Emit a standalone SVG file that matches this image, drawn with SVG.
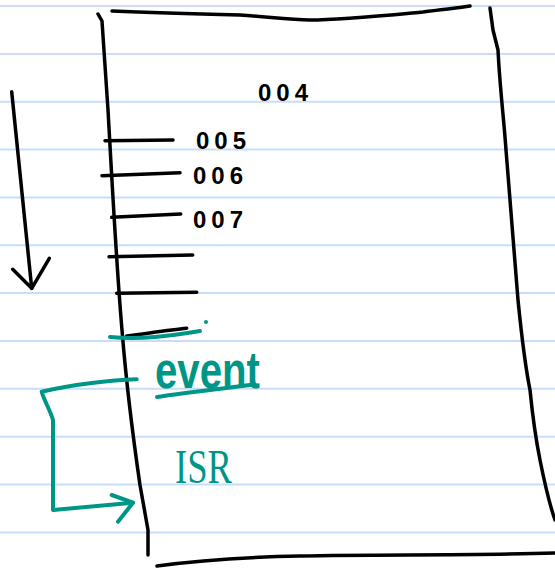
<svg xmlns="http://www.w3.org/2000/svg" width="555" height="570" viewBox="0 0 555 570">
<style>
.rule{stroke:#c7ddf9;stroke-width:2;fill:none}
.ink{stroke:#000;stroke-width:3.5;fill:none;stroke-linecap:round;stroke-linejoin:round}
.teal{stroke:#009687;stroke-width:4;fill:none;stroke-linecap:round;stroke-linejoin:round}
.num{font-family:"Liberation Sans",Arial,sans-serif;font-weight:bold;font-size:24px;fill:#000;letter-spacing:5px}
.tt{font-family:"Liberation Sans",Arial,sans-serif;fill:#009687}
</style>
<rect width="555" height="570" fill="#fff"/>
<g id="ruled-paper">
<path class="rule" d="M0 6H555M0 54H555M0 101.7H555M0 149.5H555M0 197.4H555M0 245.3H555M0 293.1H555M0 341H555M0 388.8H555M0 436.7H555M0 484.5H555M0 532.4H555"/>
</g>
<g id="stack-box">
<path class="ink" d="M112 11 C160 13 200 14 240 15 C270 17 290 20 310 20 C340 20 380 16 423 12 C445 9 460 8 470 6"/>
<path class="ink" d="M98 14 L102 21 C104 50 106 80 108 110 C112 180 116 260 122 330 C126 380 132 430 140 485 L148 530 L148 555"/>
<path class="ink" d="M490 8 L493 30 L498 50 C500 90 504 120 506 150 C510 200 514 250 518 300 C522 340 526 370 530 390 C533 420 536 440 540 460 C544 480 548 500 555 520"/>
<path class="ink" d="M157 566 C200 560 250 557 300 556 C380 554 460 556 555 553"/>
</g>
<g id="ticks">
<path class="ink" d="M105 140.7 L173 140"/>
<path class="ink" d="M102 175.7 L180 172.7"/>
<path class="ink" d="M111.7 217.3 L180.7 214"/>
<path class="ink" d="M109 256.7 L192.7 255"/>
<path class="ink" d="M116.7 293.3 L196.7 292.3"/>
<path class="ink" d="M126.7 336 C150 333 170 330 186.7 328.3"/>
<path class="teal" d="M110 337 C140 340 170 336 200 331"/>
<circle cx="206" cy="322" r="2" fill="#009687"/>
</g>
<g id="addr-004"><text class="num" x="258" y="101">004</text></g>
<g id="addr-005"><text class="num" x="196" y="149">005</text></g>
<g id="addr-006"><text class="num" x="193" y="184">006</text></g>
<g id="addr-007"><text class="num" x="193" y="228">007</text></g>
<g id="event">
<text class="tt" x="155" y="388" font-size="52" font-weight="bold" textLength="105" lengthAdjust="spacingAndGlyphs">event</text>
<path class="teal" d="M157 397 C190 392 220 389 250 385"/>
</g>
<g id="isr">
<text class="tt" x="175" y="483" font-size="48" textLength="57" lengthAdjust="spacingAndGlyphs" style="font-family:'Liberation Serif',serif">ISR</text>
</g>
<g id="connectors">
<path class="ink" d="M11.7 91.7 L31.7 288.3"/>
<path class="ink" d="M12.7 269.3 L31.7 288.3 L49.3 258.3"/>
<path class="teal" d="M136.7 379.3 C110 380 70 385 41.7 391.7 C44 400 50 410 53 420 L53 510 L133 502.7"/>
<path class="teal" d="M111.7 495 L133 502.7 L118 521.7"/>
</g>
</svg>
